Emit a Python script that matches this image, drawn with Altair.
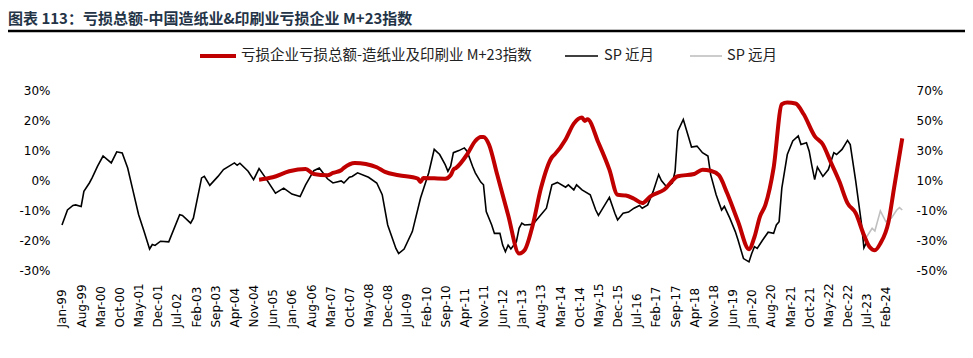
import json
import altair as alt
import pandas as pd

TITLE = "图表 113：亏损总额-中国造纸业&印刷业亏损企业 M+23指数"
SERIES = ["亏损企业亏损总额-造纸业及印刷业 M+23指数", "SP 近月", "SP 远月"]
COLORS = ["#C00000", "#000000", "#BFBFBF"]

TICK_LABELS = [
    "Jan-99", "Aug-99", "Mar-00", "Oct-00", "May-01", "Dec-01", "Jul-02", "Feb-03",
    "Sep-03", "Apr-04", "Nov-04", "Jun-05", "Jan-06", "Aug-06", "Mar-07", "Oct-07",
    "May-08", "Dec-08", "Jul-09", "Feb-10", "Sep-10", "Apr-11", "Nov-11", "Jun-12",
    "Jan-13", "Aug-13", "Mar-14", "Oct-14", "May-15", "Dec-15", "Jul-16", "Feb-17",
    "Sep-17", "Apr-18", "Nov-18", "Jun-19", "Jan-20", "Aug-20", "Mar-21", "Oct-21",
    "May-22", "Dec-22", "Jul-23", "Feb-24",
]
LEFT_TICKS = [-30, -20, -10, 0, 10, 20, 30]
RIGHT_TICKS = [-50, -30, -10, 10, 30, 50, 70]

# SP 近月 (left axis, %)
near_dates = [
    "1999-01", "1999-03", "1999-05", "1999-06", "1999-08", "1999-09", "1999-11", "1999-12",
    "2000-02", "2000-04", "2000-07", "2000-09", "2000-11", "2001-01", "2001-03", "2001-05",
    "2001-07", "2001-09", "2001-10", "2001-11", "2002-01", "2002-04", "2002-08", "2002-09",
    "2002-12", "2003-01", "2003-03", "2003-04", "2003-05", "2003-07", "2003-10", "2003-12",
    "2004-04", "2004-05", "2004-06", "2004-09", "2004-11", "2005-01", "2005-03", "2005-07",
    "2005-10", "2006-01", "2006-04", "2006-06", "2006-09", "2006-11", "2007-02", "2007-04",
    "2007-07", "2007-08", "2007-10", "2007-11", "2008-01", "2008-05", "2008-08", "2008-10",
    "2008-12", "2009-03", "2009-04", "2009-06", "2009-09", "2009-12", "2010-03", "2010-05",
    "2010-07", "2010-09", "2010-10", "2010-11", "2010-12", "2011-02", "2011-04", "2011-05",
    "2011-07", "2011-08", "2011-10", "2011-11", "2011-12", "2012-02", "2012-03", "2012-05",
    "2012-06", "2012-07", "2012-08", "2012-09", "2012-11", "2012-12", "2013-01", "2013-02",
    "2013-05", "2013-07", "2013-10", "2013-12", "2014-02", "2014-05", "2014-06", "2014-08",
    "2014-09", "2014-11", "2015-02", "2015-04", "2015-05", "2015-07", "2015-09", "2015-11",
    "2015-12", "2016-02", "2016-04", "2016-06", "2016-08", "2016-09", "2016-11", "2017-01",
    "2017-03", "2017-04", "2017-06", "2017-08", "2017-09", "2017-10", "2017-12", "2018-02",
    "2018-03", "2018-05", "2018-07", "2018-09", "2018-10", "2018-12", "2019-02", "2019-03",
    "2019-05", "2019-07", "2019-08", "2019-10", "2019-12", "2020-01", "2020-02", "2020-03",
    "2020-05", "2020-07", "2020-09", "2020-10", "2020-11", "2020-12", "2021-02", "2021-04",
    "2021-06", "2021-07", "2021-09", "2021-10", "2021-11", "2021-12", "2022-01", "2022-03",
    "2022-05", "2022-07", "2022-08", "2022-10", "2022-12", "2023-01", "2023-03", "2023-05",
    "2023-06", "2023-07",
]
near_values = [
    -15.0, -10.0, -8.5, -8.3, -8.8, -3.8, -1.0, 0.7,
    4.6, 8.0, 5.7, 9.4, 9.0, 4.0, -3.8, -11.6,
    -17.2, -23.0, -21.5, -21.8, -20.4, -20.6, -11.6, -11.8,
    -14.4, -12.7, -3.8, 0.7, 1.2, -1.8, 1.2, 3.5,
    5.7, 4.9, 5.6, 2.9, 0.1, 3.8, 1.2, -4.4,
    -2.7, -4.7, -5.5, -1.6, 3.1, 4.0, 0.4, -1.0,
    -0.3, -1.0, 0.9, 1.2, 2.4, 0.9, -1.0, -4.9,
    -15.0, -22.8, -24.5, -23.0, -17.2, -6.0, 2.4, 10.2,
    8.5, 5.1, 2.9, 4.6, 9.1, 9.8, 10.7, 9.6,
    4.6, 2.4, -0.7, -1.6, -10.5, -15.0, -17.8, -17.8,
    -21.7, -23.9, -21.7, -23.0, -20.6, -16.1, -14.4, -15.0,
    -14.8, -12.7, -9.4, -1.6, -0.8, -2.4, -1.6, -3.3,
    -1.6, -3.3, -4.9, -10.0, -11.8, -8.8, -5.8, -11.1,
    -13.3, -11.1, -10.7, -9.4, -8.5, -9.4, -8.3, -3.8,
    1.8, -0.2, -2.4, -1.0, 2.9, 16.3, 20.2, 14.1,
    11.0, 11.3, 9.1, 8.0, 1.8, -4.9, -10.0, -8.8,
    -12.7, -17.2, -20.0, -26.2, -27.3, -24.5, -22.2, -22.8,
    -20.0, -17.4, -17.8, -15.0, -13.9, -2.7, 8.5, 13.0,
    14.7, 11.8, 12.4, 9.6, 4.6, 0.1, 4.3, 1.2,
    3.5, 9.1, 8.5, 10.2, 13.2, 11.8, -0.4, -13.9,
    -22.6, -20.6,
]

# SP 远月 (left axis, %)
far_dates = ["2023-07", "2023-09", "2023-10", "2023-12", "2024-02", "2024-04", "2024-06", "2024-07", "2024-08"]
far_values = [-18.9, -16.1, -17.0, -10.3, -13.9, -12.7, -10.0, -9.2, -10.0]

# 亏损企业亏损总额 M+23 (right axis, %)
m23_dates = [
    "2005-01", "2005-06", "2005-12", "2006-06", "2006-09", "2007-02", "2007-04", "2007-07",
    "2007-08", "2007-12", "2008-04", "2008-08", "2008-11", "2009-04", "2009-11", "2009-12",
    "2010-01", "2010-09", "2010-11", "2010-12", "2011-01", "2011-05", "2011-08", "2011-10",
    "2011-11", "2012-01", "2012-04", "2012-08", "2012-12", "2013-02", "2013-05", "2013-08",
    "2013-12", "2014-01", "2014-05", "2014-08", "2014-11", "2014-12", "2015-01", "2015-05",
    "2015-09", "2015-12", "2016-03", "2016-06", "2016-09", "2016-12", "2017-05", "2017-10",
    "2018-04", "2018-07", "2018-10", "2019-01", "2019-04", "2019-08", "2019-12", "2020-02",
    "2020-04", "2020-06", "2020-09", "2020-12", "2021-02", "2021-05", "2021-08", "2021-12",
    "2022-03", "2022-06", "2022-09", "2022-12", "2023-03", "2023-06", "2023-08", "2023-10",
    "2023-12", "2024-03", "2024-05", "2024-08",
]
m23_values = [
    10.2, 11.8, 15.8, 17.4, 14.0, 13.2, 14.7, 16.5,
    18.1, 21.4, 20.7, 18.5, 15.4, 13.2, 10.9, 8.7,
    11.3, 10.9, 13.2, 16.9, 18.1, 27.0, 36.0, 38.7,
    38.7, 33.7, 13.6, -13.3, -39.0, -36.8, -20.0, 4.6,
    25.2, 27.0, 37.0, 47.6, 51.6, 49.4, 50.5, 34.8,
    16.9, 0.1, -0.3, -2.5, -5.4, -0.9, 3.5, 12.5,
    14.0, 16.9, 16.2, 13.2, 1.3, -17.7, -36.1, -28.0,
    -14.4, -6.6, 18.1, 60.5, 61.7, 61.0, 53.8, 39.3,
    33.7, 21.4, 9.1, -5.4, -12.1, -26.7, -34.5, -36.8,
    -32.3, -17.7, 4.6, 37.7,
]


def month_index(d):
    y, m = d.split("-")
    return (int(y) - 1999) * 12 + int(m) - 1


sp_df = pd.concat([
    pd.DataFrame({"t": [month_index(d) for d in near_dates], "v": near_values, "series": SERIES[1]}),
    pd.DataFrame({"t": [month_index(d) for d in far_dates], "v": far_values, "series": SERIES[2]}),
])
m23_df = pd.DataFrame({"t": [month_index(d) for d in m23_dates], "v": m23_values})

AXIS_FONT = "DejaVu Sans"
CJK_FONT = "Noto Sans CJK SC"
W, H = 850, 180

x_axis = alt.Axis(
    values=list(range(0, 7 * len(TICK_LABELS), 7)),
    labelExpr=json.dumps(TICK_LABELS) + "[round(datum.value / 7)]",
    labelAngle=-90, labelAlign="left", labelBaseline="middle",
    labelPadding=57, ticks=False, domain=False, grid=False,
    labelOverlap=False, labelFlush=False, labelBound=False, title=None,
    labelFont=AXIS_FONT, labelFontSize=12, labelColor="#000000",
)
x_scale = alt.Scale(domain=[-1.46, 309.1], nice=False, zero=False)

sp = alt.Chart(sp_df).mark_line(strokeWidth=1.6).encode(
    x=alt.X("t:Q", scale=x_scale, axis=x_axis),
    y=alt.Y(
        "v:Q",
        scale=alt.Scale(domain=[-30, 30], nice=False, zero=False),
        axis=alt.Axis(
            orient="left", values=LEFT_TICKS, labelExpr="datum.value + '%'",
            ticks=False, domain=False, grid=False, title=None, labelPadding=8,
            labelFont=AXIS_FONT, labelFontSize=12, labelColor="#000000",
        ),
    ),
    color=alt.Color("series:N", scale=alt.Scale(domain=SERIES[1:], range=COLORS[1:]), legend=None),
)

m23 = alt.Chart(m23_df).mark_line(strokeWidth=4, color=COLORS[0], interpolate="monotone").encode(
    x=alt.X("t:Q", scale=x_scale, axis=x_axis),
    y=alt.Y(
        "v:Q",
        scale=alt.Scale(domain=[-50, 70], nice=False, zero=False),
        axis=alt.Axis(
            orient="right", values=RIGHT_TICKS, labelExpr="datum.value + '%'",
            ticks=False, domain=False, grid=False, title=None, labelPadding=8,
            labelFont=AXIS_FONT, labelFontSize=12, labelColor="#000000",
        ),
    ),
)

one = pd.DataFrame({"k": [0]})
base = alt.Chart(one)

title = base.mark_text(
    text=TITLE, align="left", baseline="middle", font=CJK_FONT,
    fontSize=15, fontWeight="bold", color="#243447",
).encode(x=alt.value(-50), y=alt.value(-71))

top_rule = base.mark_rule(color="#000000", strokeWidth=2.5).encode(
    x=alt.value(-55), x2=alt.value(909), y=alt.value(-59))
bottom_rule = base.mark_rule(color="#000000", strokeWidth=2.5).encode(
    x=alt.value(-55), x2=alt.value(909), y=alt.value(262))

leg_y = -34
leg = []
for (x0, x1, tx), name, col, sw in zip(
    [(142, 178, 183), (507, 540, 546), (632, 664, 669)], SERIES, COLORS, [4, 1.6, 1.6]
):
    leg.append(base.mark_rule(color=col, strokeWidth=sw).encode(
        x=alt.value(x0), x2=alt.value(x1), y=alt.value(leg_y)))
    leg.append(base.mark_text(
        text=name, align="left", baseline="middle", font=CJK_FONT,
        fontSize=14.5, color="#222222",
    ).encode(x=alt.value(tx), y=alt.value(leg_y)))

chart = alt.layer(sp, m23, title, top_rule, bottom_rule, *leg).resolve_scale(
    y="independent"
).properties(
    width=W, height=H,
    autosize=alt.AutoSizeParams(type="none"),
    padding={"left": 50, "top": 82, "right": 57, "bottom": 78},
).configure_view(stroke=None).configure_axisX(labelOverlap=False)

chart.save("out.html", embed_options={"renderer": "svg", "actions": False})
